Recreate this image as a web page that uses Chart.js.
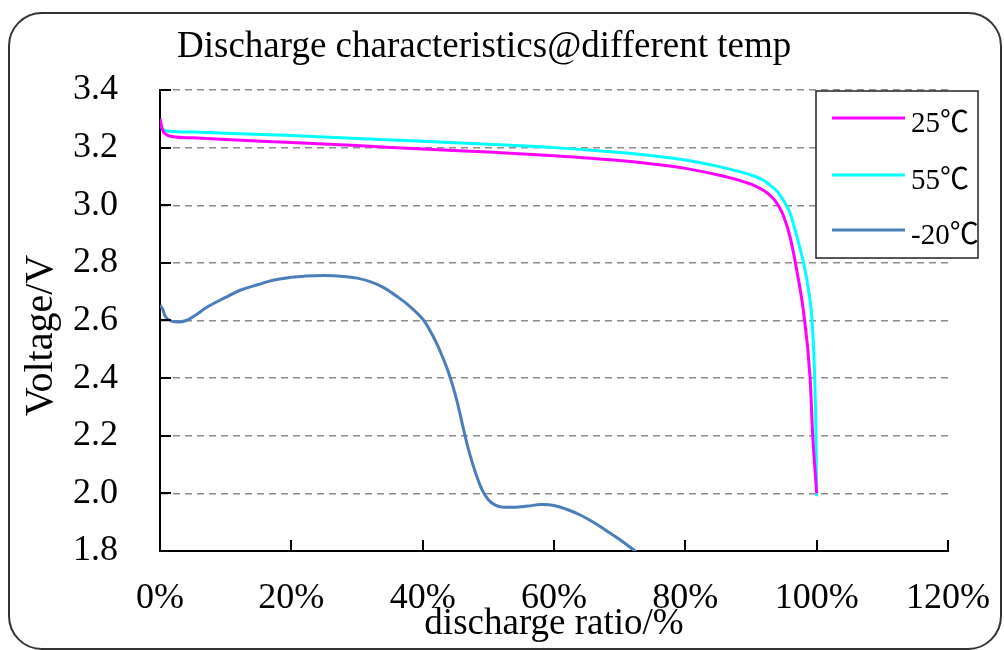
<!DOCTYPE html>
<html>
<head>
<meta charset="utf-8">
<title>Discharge characteristics@different temp</title>
<script src="https://cdn.jsdelivr.net/npm/chart.js@4.4.1/dist/chart.umd.min.js"></script>
<style>
    body { margin: 0; background: #fff; }
    #wrap { position: relative; width: 1004px; height: 650px; overflow: hidden; }
    #frame {
        position: absolute; left: 8px; top: 12px; width: 990px; height: 634px;
        border: 2px solid #333; border-radius: 34px;
    }
    #chart { position: absolute; left: 0; top: 0; }
</style>
</head>
<body>
<div id="wrap">
    <div id="frame"></div>
    <canvas id="chart" width="1004" height="650"></canvas>
</div>
<script>
// discharge ratio (%) and voltage (V)
const ratio25 = [0, 0.4, 1, 2, 5, 10, 20, 30, 40, 50, 60, 70, 75, 80, 85, 88, 90, 92, 93, 94, 95, 96, 97, 98, 99, 99.4, 100];
const volt25 = [3.30, 3.26, 3.245, 3.238, 3.234, 3.228, 3.218, 3.207, 3.195, 3.185, 3.172, 3.155, 3.143, 3.128, 3.105, 3.088, 3.073, 3.05, 3.032, 3.005, 2.96, 2.885, 2.77, 2.63, 2.40, 2.20, 2.0];

const ratio55 = [0, 0.4, 1, 2, 5, 10, 20, 30, 40, 50, 60, 70, 75, 80, 85, 88, 90, 92, 93, 94, 95, 96, 97, 98, 98.8, 99.3, 99.7, 99.9, 100];
const volt55 = [3.285, 3.265, 3.258, 3.256, 3.254, 3.25, 3.242, 3.232, 3.222, 3.212, 3.2, 3.183, 3.172, 3.157, 3.135, 3.118, 3.105, 3.085, 3.068, 3.048, 3.015, 2.97, 2.89, 2.80, 2.70, 2.60, 2.40, 2.20, 1.99];

const ratioM20 = [0, 0.4, 0.8, 1.5, 2.6, 4, 5.5, 7.2, 10, 12.2, 15, 17.2, 20, 22, 25, 28, 30, 32, 34, 36, 38, 40, 41, 42, 43, 44, 45, 46, 47, 48, 49, 50, 51, 52, 54, 56, 58, 60, 62, 64, 66, 68, 70, 72.6];
const voltM20 = [2.653, 2.64, 2.615, 2.60, 2.595, 2.60, 2.62, 2.647, 2.68, 2.705, 2.725, 2.74, 2.75, 2.754, 2.756, 2.753, 2.747, 2.735, 2.715, 2.685, 2.65, 2.605, 2.57, 2.527, 2.475, 2.415, 2.34, 2.245, 2.15, 2.075, 2.015, 1.978, 1.96, 1.953, 1.952, 1.956, 1.961, 1.958, 1.944, 1.925, 1.90, 1.87, 1.84, 1.796];

const seriesNames = ["25\u2103", "55\u2103", "-20\u2103"];
const seriesColors = ["#ff00ff", "#00ffff", "#4a7ebb"];

const xTicks = [0, 20, 40, 60, 80, 100, 120];
const yTicks = [1.8, 2.0, 2.2, 2.4, 2.6, 2.8, 3.0, 3.2, 3.4];

const chartTitle = "Discharge characteristics@different temp";
const xTitle = "discharge ratio/%";
const yTitle = "Voltage/V   "; // trailing spaces nudge it down like the original

const serif = "'Liberation Serif', 'Times New Roman', 'Noto Sans CJK SC', serif";

function toPoints(xs, ys) {
    return xs.map((x, i) => ({ x: x, y: ys[i] }));
}

// title text, inward tick marks and the boxed legend
const decorations = {
    id: "decorations",
    afterDraw(chart) {
        const ctx = chart.ctx;
        const area = chart.chartArea;
        const xs = chart.scales.x;
        const ys = chart.scales.y;

        ctx.save();
        ctx.fillStyle = "#000";
        ctx.font = "37px " + serif;
        ctx.textBaseline = "alphabetic";
        ctx.textAlign = "left";
        ctx.fillText(chartTitle, 177, 57);

        ctx.strokeStyle = "#000";
        ctx.lineWidth = 2;
        ctx.beginPath();
        xs.ticks.forEach(t => {
            const px = Math.round(xs.getPixelForValue(t.value));
            ctx.moveTo(px, area.bottom);
            ctx.lineTo(px, area.bottom - 11);
        });
        ys.ticks.forEach(t => {
            const py = Math.round(ys.getPixelForValue(t.value));
            ctx.moveTo(area.left, py);
            ctx.lineTo(area.left + 11, py);
        });
        ctx.stroke();

        // legend box
        const bx = 816, by = 91, bw = 162, bh = 167;
        ctx.fillStyle = "#fff";
        ctx.fillRect(bx, by, bw, bh);
        ctx.lineWidth = 1.5;
        ctx.strokeStyle = "#222";
        ctx.strokeRect(bx, by, bw, bh);

        const rowY = [118, 175, 230];
        chart.data.datasets.forEach((ds, i) => {
            ctx.strokeStyle = ds.borderColor;
            ctx.lineWidth = 3;
            ctx.beginPath();
            ctx.moveTo(832, rowY[i]);
            ctx.lineTo(905, rowY[i]);
            ctx.stroke();
            ctx.fillStyle = "#000";
            ctx.font = "29px " + serif;
            ctx.fillText(ds.label, 911, rowY[i] + 14);
        });
        ctx.restore();
    }
};

const datasets = [
    { label: seriesNames[0], data: toPoints(ratio25, volt25), borderColor: seriesColors[0], cubicInterpolationMode: "monotone" },
    { label: seriesNames[1], data: toPoints(ratio55, volt55), borderColor: seriesColors[1], cubicInterpolationMode: "monotone" },
    { label: seriesNames[2], data: toPoints(ratioM20, voltM20), borderColor: seriesColors[2], tension: 0.4 }
].map(ds => Object.assign(ds, {
    borderWidth: 3,
    pointRadius: 0,
    fill: false
}));

Chart.defaults.font.family = serif;
Chart.defaults.color = "#000";

new Chart(document.getElementById("chart"), {
    type: "line",
    data: { datasets: datasets },
    plugins: [decorations],
    options: {
        responsive: false,
        animation: false,
        layout: { padding: { left: 8, right: 56, top: 90, bottom: 0 } },
        plugins: {
            legend: { display: false },
            title: { display: false },
            tooltip: { enabled: false }
        },
        scales: {
            x: {
                type: "linear",
                min: xTicks[0],
                max: xTicks[xTicks.length - 1],
                afterBuildTicks: s => { s.ticks = xTicks.map(v => ({ value: v })); },
                afterFit: s => { s.height = 99; s.paddingRight = 0; s.paddingLeft = 0; },
                ticks: {
                    padding: 18,
                    font: { size: 36 },
                    callback: v => v + "%"
                },
                grid: { display: false },
                border: { display: true, color: "#000", width: 2 },
                title: { display: true, text: xTitle, font: { size: 37 }, padding: { top: 0, bottom: 4 } }
            },
            y: {
                min: yTicks[0],
                max: yTicks[yTicks.length - 1],
                afterBuildTicks: s => { s.ticks = yTicks.map(v => ({ value: v })); },
                afterFit: s => { s.width = 152; },
                ticks: {
                    padding: 42,
                    font: { size: 36 },
                    callback: v => v.toFixed(1)
                },
                grid: {
                    drawTicks: false,
                    lineWidth: 1.5,
                    color: c => c.index === 0 ? "rgba(0,0,0,0)" : "#8c8c8c"
                },
                border: { display: true, color: "#000", width: 2, dash: [7, 5] },
                title: { display: true, text: yTitle, font: { size: 40 }, padding: { top: 9, bottom: 0 } }
            }
        }
    }
});
</script>
</body>
</html>
